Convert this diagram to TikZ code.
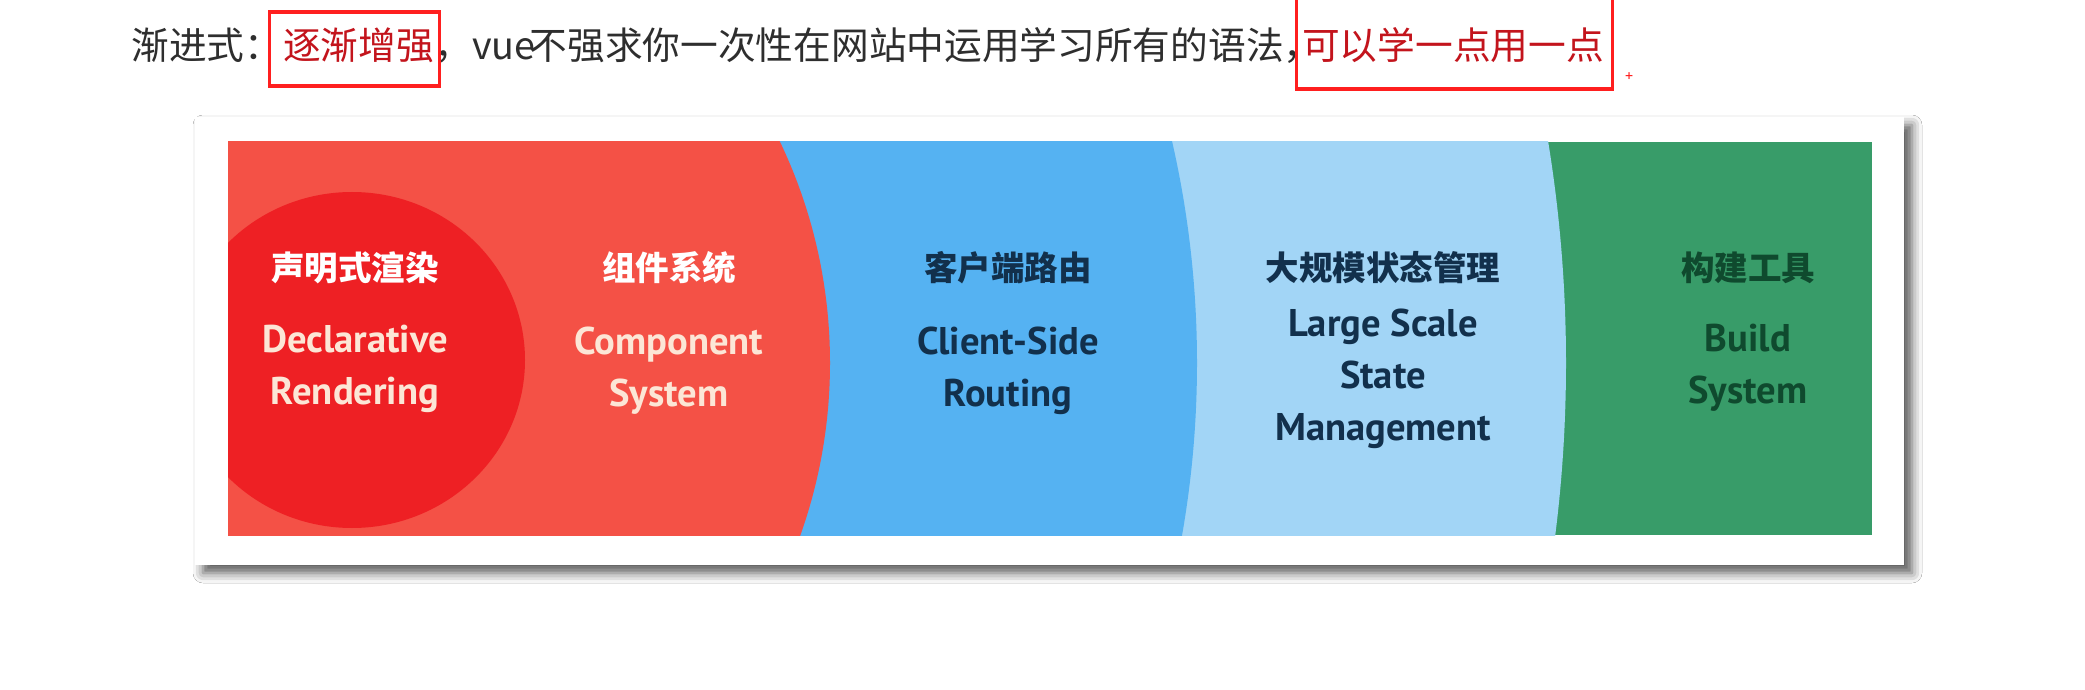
\documentclass[tikz,border=0pt]{standalone}
\usepackage{fontspec}
\setmainfont{PT Sans}
\newfontfamily\cjk{Noto Sans CJK SC}
\usetikzlibrary{positioning, shadows.blur}

\definecolor{vuered}{HTML}{F45146}
\definecolor{vuedeep}{HTML}{EE2024}
\definecolor{vueblue}{HTML}{55B2F2}
\definecolor{vuesky}{HTML}{A2D5F6}
\definecolor{vuegreen}{HTML}{389C69}
\definecolor{cream}{HTML}{FCE6D6}
\definecolor{navy}{HTML}{12304C}
\definecolor{pine}{HTML}{0F4A2E}
\definecolor{markred}{HTML}{FF1F1F}
\definecolor{keyred}{HTML}{C3141C}
\definecolor{inkgray}{HTML}{2E2E2E}

\begin{document}
\begin{tikzpicture}[x=0.5pt, y=-0.5pt,
  headline/.style={font=\cjk\fontsize{18.85}{23}\selectfont, inner sep=0pt, anchor=base west, text=inkgray},
  hilite/.style={draw=markred, line width=1.6pt},
  cntext/.style={font=\cjk\bfseries\fontsize{16.75}{20}\selectfont, inner sep=0pt},
  entext/.style={font=\bfseries\fontsize{19.3}{26}\selectfont, align=center, inner sep=0pt}]
\useasboundingbox[fill=white] (0,0) rectangle (2085,690);

% heading line
\node[headline] (lead) at (131,60) {渐进式：};
\node[headline, text=keyred] (kw1) at (lead.base east) {逐渐增强};
\node[headline] (mid) at (kw1.base east) {，vue\kern-3pt 不强求你一次性在网站中运用学习所有的语法，\kern-10pt};
\node[headline, text=keyred] (kw2) at (mid.base east) {可以学一点用一点};
\draw[hilite] ([shift={(-13,-48)}]kw1.base west) rectangle ([shift={(5,26)}]kw1.base east);
\draw[hilite] ([shift={(-5,-80)}]kw2.base west) rectangle ([shift={(8,29)}]kw2.base east);
\node[font=\fontsize{8}{8}\selectfont, text=markred, inner sep=0pt] (plus) at ([shift={(25,17)}]kw2.base east) {+};

% card
\path[fill=white, blur shadow={shadow xshift=4pt, shadow yshift=-4pt, shadow blur radius=5pt, shadow opacity=65}] (195,117) rectangle (1904,565);

% rings
\begin{scope}
\clip (228,142) rectangle (1872,535);
\fill[vuegreen] (228,142) rectangle (1872,535);
\fill[vuesky] (200,363) circle[radius=683pt];
\fill[vueblue] (208,363) circle[radius=494.5pt];
\fill[vuered] (317,363) circle[radius=256.5pt];
\fill[vuedeep] (352,360) ellipse[x radius=86.5pt, y radius=84pt];
\end{scope}

\node[cntext, text=white] (t1) at (355,268) {声明式渲染};
\node[entext, text=cream, below=20pt of t1] (e1) {Declarative\\Rendering};
\node[cntext, text=white] (t2) at (669,268) {组件系统};
\node[entext, text=cream, below=21pt of t2] (e2) {Component\\System};
\node[cntext, text=navy] (t3) at (1008,268) {客户端路由};
\node[entext, text=navy, below=21pt of t3] (e3) {Client-Side\\Routing};
\node[cntext, text=navy] (t4) at (1383,268) {大规模状态管理};
\node[entext, text=navy, below=12pt of t4] (e4) {Large Scale\\State\\Management};
\node[cntext, text=pine] (t5) at (1748,268) {构建工具};
\node[entext, text=pine, below=19.5pt of t5] (e5) {Build\\System};
\end{tikzpicture}
\end{document}
